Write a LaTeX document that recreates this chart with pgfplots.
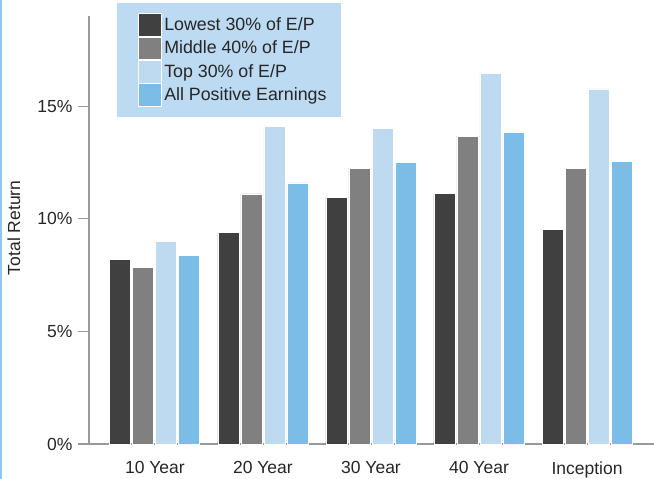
\documentclass[border=0pt]{standalone}
\usepackage{pgfplots}
\pgfplotsset{compat=1.18}
\usepackage{fontspec}
\setmainfont{Liberation Sans}
\definecolor{cdark}{HTML}{404040}
\definecolor{cmid}{HTML}{808080}
\definecolor{ctop}{HTML}{BDDAF1}
\definecolor{call}{HTML}{7BBDE7}
\definecolor{clegbg}{HTML}{BCDAF1}
\definecolor{cedge}{HTML}{8CC8F0}
\definecolor{caxis}{HTML}{999999}
\begin{document}
\begin{tikzpicture}[x=1pt,y=1pt]
\useasboundingbox (-89,-35) rectangle (565,444);
\fill[cedge] (-89,-35) rectangle (-87,444);
\begin{axis}[
  at={(0,0)}, anchor=south west,
  scale only axis, width=565pt, height=428pt,
  xmin=-0.61, xmax=4.62, ymin=0, ymax=19.0,
  axis x line*=bottom, axis y line*=left,
  axis line style={caxis, line width=1.2pt, -},
  xtick=data, xticklabels={10 Year,20 Year,30 Year,40 Year,Inception},
  x tick style={draw=none},
  ytick={0,5,10,15}, yticklabels={0\%,5\%,10\%,15\%},
  y tick style={caxis, line width=1.2pt},
  tick align=outside, major tick length=11pt,
  yticklabel style={xshift=-2pt},
  xticklabel style={yshift=-3pt},
  tick label style={font=\fontsize{17.5}{20}\selectfont, text=black!85},
  ylabel={Total Return},
  ylabel style={font=\fontsize{17.5}{20}\selectfont, text=black!85, at={(axis description cs:-0.133,0.505)}, anchor=center},
  ybar=2pt, bar width=21pt,
  every axis plot/.append style={draw=white, line width=0.8pt},
  legend style={at={(axis description cs:0.05,1.0304)}, anchor=north west, fill=clegbg, draw=none,
    font=\fontsize{17.8}{21}\selectfont, text=black!85,
    inner xsep=12pt, inner ysep=10pt, row sep=0pt,
    /tikz/every even column/.append style={column sep=9pt}},
  legend cell align=left,
  legend image code/.code={\path (0pt,0pt); \draw[#1, draw=white, line width=0.8pt] (9pt,-11.3pt) rectangle (32pt,11.3pt);},
  clip=false,
]
\addplot[fill=cdark] coordinates {(0,8.21) (1,9.39) (2,10.93) (3,11.12) (4,9.54)};
\addplot[fill=cmid] coordinates {(0,7.85) (1,11.10) (2,12.24) (3,13.67) (4,12.22)};
\addplot[fill=ctop] coordinates {(0,8.98) (1,14.09) (2,14.02) (3,16.43) (4,15.76)};
\addplot[fill=call] coordinates {(0,8.37) (1,11.59) (2,12.48) (3,13.82) (4,12.55)};
\legend{Lowest 30\% of E/P, Middle 40\% of E/P, Top 30\% of E/P, All Positive Earnings}
\end{axis}
\end{tikzpicture}
\end{document}
